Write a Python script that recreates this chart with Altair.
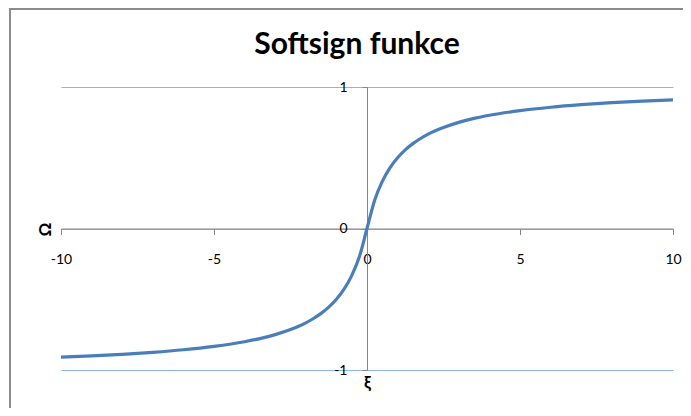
import altair as alt
import pandas as pd

# values (softsign curve)
xs = [-10, -9, -8, -7, -6, -5, -4, -3.5, -3, -2.5, -2, -1.75, -1.5, -1.25, -1, -0.75, -0.5, -0.25, 0,
      0.25, 0.5, 0.75, 1, 1.25, 1.5, 1.75, 2, 2.5, 3, 3.5, 4, 5, 6, 7, 8, 9, 10]
ys = [-0.909, -0.9, -0.889, -0.875, -0.857, -0.833, -0.8, -0.778, -0.75, -0.714, -0.667, -0.636, -0.6, -0.556,
      -0.5, -0.429, -0.333, -0.2, 0.0,
      0.2, 0.333, 0.429, 0.5, 0.556, 0.6, 0.636, 0.667, 0.714, 0.75, 0.778, 0.8, 0.833, 0.857, 0.875,
      0.889, 0.9, 0.909]
x_ticks = [-10, -5, 0, 5, 10]
y_ticks = [-1, 0, 1]
title_text = "Softsign funkce"
x_title = "ξ"
y_title = "Ω"

df = pd.DataFrame({"x": xs, "y": ys})
frame_df = pd.DataFrame({"k": [0]})

FONT = "Lato"
W, H = 612, 283

xscale = alt.Scale(domain=[-10, 10], nice=False, zero=False)
yscale = alt.Scale(domain=[-1, 1], nice=False, zero=False)

frame = alt.Chart(frame_df).mark_rect(
    fill="transparent", stroke="#8c8c8c", strokeWidth=2
).encode(
    x=alt.value(-51), x2=alt.value(720), y=alt.value(-78), y2=alt.value(430)
)

line = alt.Chart(df).mark_line(color="#4A7EBB", strokeWidth=3.2, interpolate="monotone").encode(
    x=alt.X("x:Q", scale=xscale,
            axis=alt.Axis(values=x_ticks, title=x_title, offset=-H / 2, grid=False,
                          domainColor="#868686", tickColor="#868686", tickSize=6,
                          labelPadding=18, labelFlush=False, labelFontSize=14,
                          labelExpr="'' + datum.value",
                          labelFont=FONT, labelColor="#000000",
                          titleFont=FONT, titleFontSize=17, titleFontWeight="bold",
                          titleColor="#000000", titleX=306, titleY=154,
                          titleBaseline="middle", titleAlign="center")),
    y=alt.Y("y:Q", scale=yscale,
            axis=alt.Axis(values=y_ticks, title=y_title, offset=-W / 2,
                          grid=True, gridColor="#8EB4E3", gridWidth=1,
                          domainColor="#868686", tickColor="#868686", tickSize=5,
                          labelPadding=15, labelFlush=False, labelFontSize=14,
                          labelExpr="'' + datum.value",
                          labelFont=FONT, labelColor="#000000",
                          titleFont=FONT, titleFontSize=17, titleFontWeight="bold",
                          titleColor="#000000", titleX=-322, titleY=142, titleAngle=270,
                          titleBaseline="middle", titleAlign="center")),
)

chart = alt.layer(frame, line).properties(
    width=W, height=H,
    title=alt.TitleParams(title_text, font=FONT, fontSize=30, fontWeight="bold",
                          color="#000000", anchor="middle", frame="group", dx=-10,
                          offset=0, dy=76, baseline="alphabetic"),
    autosize=alt.AutoSizeParams(type="none"),
    padding={"left": 53, "top": 79, "right": 10, "bottom": 38},
    view=alt.ViewBackground(stroke=None, strokeWidth=0),
).configure(background="white")

chart.save("out.html", embed_options={"renderer": "svg", "actions": False})
